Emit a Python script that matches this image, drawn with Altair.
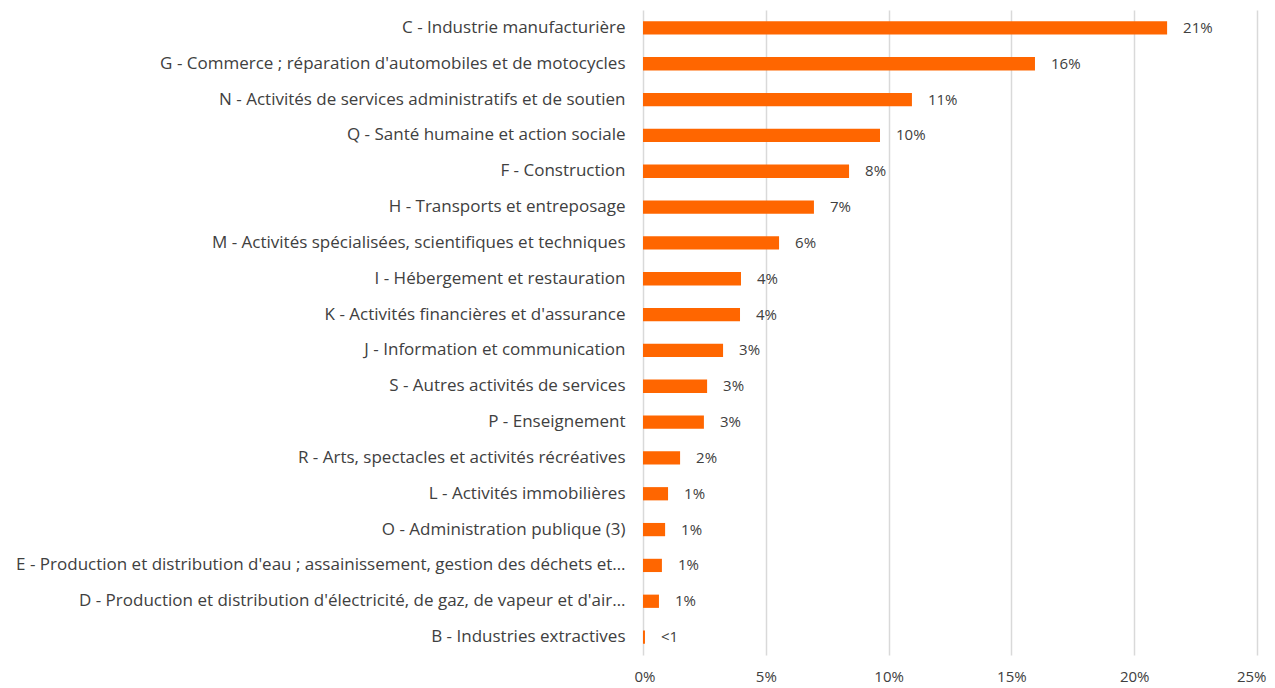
import altair as alt
import pandas as pd

categories = [
    "C - Industrie manufacturière",
    "G - Commerce ; réparation d'automobiles et de motocycles",
    "N - Activités de services administratifs et de soutien",
    "Q - Santé humaine et action sociale",
    "F - Construction",
    "H - Transports et entreposage",
    "M - Activités spécialisées, scientifiques et techniques",
    "I - Hébergement et restauration",
    "K - Activités financières et d'assurance",
    "J - Information et communication",
    "S - Autres activités de services",
    "P - Enseignement",
    "R - Arts, spectacles et activités récréatives",
    "L - Activités immobilières",
    "O - Administration publique (3)",
    "E - Production et distribution d'eau ; assainissement, gestion des déchets et…",
    "D - Production et distribution d'électricité, de gaz, de vapeur et d'air…",
    "B - Industries extractives",
]
values = [21.34, 15.96, 10.95, 9.65, 8.39, 6.96, 5.54, 3.99, 3.95, 3.26,
          2.61, 2.48, 1.51, 1.02, 0.90, 0.77, 0.65, 0.08]
labels = ["21%", "16%", "11%", "10%", "8%", "7%", "6%", "4%", "4%", "3%",
          "3%", "3%", "2%", "1%", "1%", "1%", "1%", "<1"]

df = pd.DataFrame({"cat": categories, "val": values, "lab": labels})

FONT = "Open Sans"

y = alt.Y("cat:N", sort=categories, title=None,
          scale=alt.Scale(paddingInner=0.63, paddingOuter=0.315),
          axis=alt.Axis(ticks=False, domain=False, labelPadding=18,
                        labelLimit=0, labelFontSize=17, labelFont=FONT,
                        labelColor="#404040", grid=False))
x = alt.X("val:Q", title=None,
          scale=alt.Scale(domain=[0, 25], nice=False),
          axis=alt.Axis(values=[0, 5, 10, 15, 20, 25], labelExpr="datum.value + '%'",
                        ticks=False, domain=False, grid=True, gridColor="#d9d9d9",
                        gridWidth=1.5, labelPadding=14, labelFontSize=15, labelFont=FONT,
                        labelFlush=True, labelFlushOffset=9, labelColor="#404040"))

bars = alt.Chart(df).mark_bar(color="#FF6600").encode(x=x, y=y)
text = alt.Chart(df).mark_text(align="left", dx=16, fontSize=15, font=FONT,
                               color="#404040").encode(
    x="val:Q", y=alt.Y("cat:N", sort=categories), text="lab:N")

chart = (bars + text).properties(
    width=614, height=645,
    autosize=alt.AutoSizeParams(type="none"),
    padding={"left": 635, "top": 2, "right": 10, "bottom": 30},
).configure_view(stroke=None)

chart.save("out.html", embed_options={"renderer": "svg", "actions": False})
